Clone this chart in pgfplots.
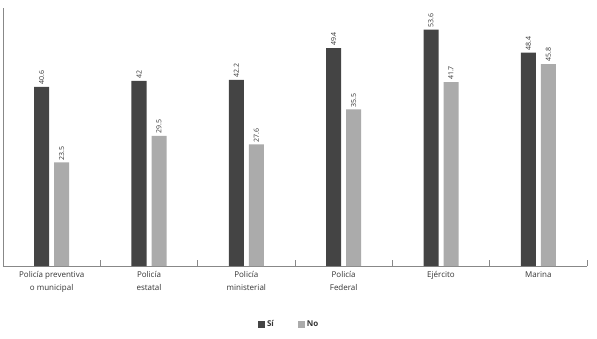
\documentclass[border=0pt]{standalone}
\usepackage{pgfplots}
\pgfplotsset{compat=1.18}
\usepackage{fontspec}
\setmainfont{Open Sans}
\definecolor{si}{HTML}{444444}
\definecolor{nocol}{HTML}{ABABAB}
\definecolor{axisgray}{HTML}{888888}
\definecolor{txt}{HTML}{333333}
\begin{document}
\begin{tikzpicture}[x=1pt,y=1pt]
\useasboundingbox (0,0) rectangle (597,338);
\begin{axis}[
  at={(3pt,72pt)}, anchor=south west,
  width=584pt, height=258pt, scale only axis,
  xmin=-0.5, xmax=5.5, ymin=0, ymax=58.5,
  axis x line*=bottom, axis y line*=left,
  axis line style={axisgray, line width=0.8pt},
  ytick=\empty,
  xtick={0,1,2,3,4,5},
  xticklabels={{Policía preventiva\\o municipal},{Policía\\estatal},{Policía\\ministerial},{Policía\\Federal},{Ejército},{Marina}},
  xticklabel style={align=center, font=\fontsize{8}{12.5}\selectfont, text=txt, yshift=-2pt},
  major tick length=0pt,
  extra x ticks={0.5,1.5,2.5,3.5,4.5,5.5},
  extra x tick labels={},
  extra x tick style={major tick length=6pt, tick align=inside, tick style={axisgray, line width=0.6pt}},
  ybar, bar width=15pt,
  nodes near coords,
  every node near coord/.append style={rotate=90, anchor=west, font=\fontsize{7}{9}\selectfont, text=txt, inner sep=2pt},
  /pgf/number format/.cd, fixed, precision=1, assume math mode=true,
  /pgfplots/.cd,
  legend columns=2,
  legend style={at={(0.49,-0.225)}, anchor=center, draw=none, fill=none, font=\fontsize{8}{10}\selectfont\bfseries, text=txt, /tikz/every even column/.append style={column sep=22pt}},
  legend image code/.code={\fill[#1] (0pt,-3.5pt) rectangle (7pt,3.5pt);},
]
\addplot[fill=si, draw=none, bar shift=-10pt] coordinates {(0,40.6) (1,42) (2,42.2) (3,49.4) (4,53.6) (5,48.4)};
\addplot[fill=nocol, draw=none, bar shift=10pt] coordinates {(0,23.5) (1,29.5) (2,27.6) (3,35.5) (4,41.7) (5,45.8)};
\legend{Sí, No}
\end{axis}
\end{tikzpicture}
\end{document}
